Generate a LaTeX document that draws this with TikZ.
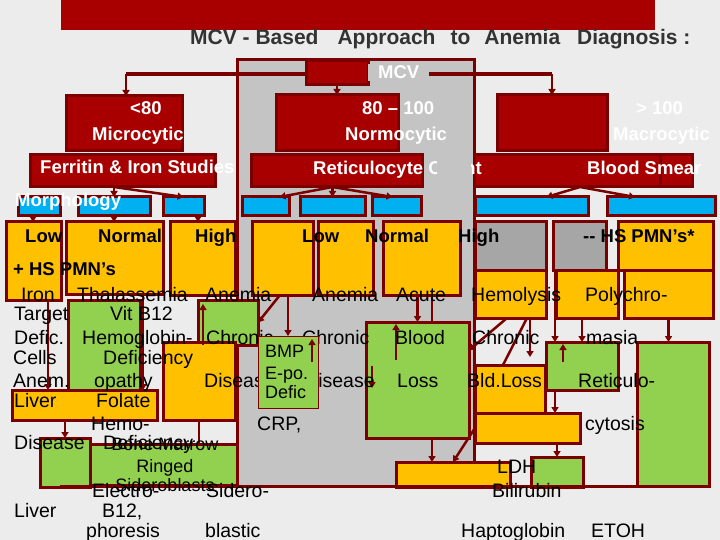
\documentclass[tikz,border=0pt]{standalone}
\usepackage{fontspec}
\setmainfont{Liberation Sans}
\usetikzlibrary{arrows.meta,positioning}
\definecolor{slidebg}{HTML}{ECECEC}
\definecolor{banner}{HTML}{A80000}
\definecolor{edge}{HTML}{7A0000}
\definecolor{panel}{HTML}{C4C4C4}
\definecolor{ambox}{HTML}{FFC000}
\definecolor{grbox}{HTML}{92D050}
\definecolor{blbox}{HTML}{00B0F0}
\definecolor{gybox}{HTML}{A6A6A6}
\definecolor{titletext}{HTML}{333333}
\begin{document}
\begin{tikzpicture}[x=1pt,y=-1pt,
  cell/.style={draw=edge,line width=3pt,anchor=north west,inner sep=0pt,outer sep=0pt},
  sz/.style 2 args={minimum width=#1pt,minimum height=#2pt},
  redbox/.style={cell,fill=banner},
  bluebox/.style={cell,fill=blbox,minimum height=19pt},
  ambbox/.style={cell,fill=ambox},
  grnbox/.style={cell,fill=grbox},
  graybox/.style={cell,fill=gybox},
  arr/.style={draw=edge,line width=2.5pt,-{Triangle[length=6pt,width=7pt]}},
  conn/.style={draw=edge,line width=2.5pt},
  wlabel/.style={text=white,font=\bfseries\fontsize{18.5}{20}\selectfont,anchor=base west,inner sep=0pt},
  blabel/.style={font=\bfseries\fontsize{18.5}{20}\selectfont,anchor=base west,inner sep=0pt},
  body/.style={font=\fontsize{19.5}{20}\selectfont,anchor=base west,inner sep=0pt},
  boxtext/.style={font=\fontsize{18}{20}\selectfont,inner sep=0pt,anchor=base},
]
\useasboundingbox (0,0) rectangle (720,540);
\fill[slidebg] (0,0) rectangle (720,540);
\fill[banner] (61,0) rectangle (655,30);
\node[text=titletext,font=\bfseries\fontsize{21}{22}\selectfont,anchor=base west,inner sep=0pt] (title) at (190,45)
  {MCV - Based\hspace{19pt}Approach\hspace{15pt}to\hspace{14pt}Anemia\hspace{17pt}Diagnosis :};
\draw[edge,line width=3pt,fill=panel] (237,60) rectangle (474,486);

% MCV split
\coordinate (mcvl) at (126,74);
\coordinate (mcvr) at (552,74);
\draw[edge,line width=4pt] (mcvl) -- (mcvr);
\node[redbox,sz={62}{24}] (mcvbox) at (306,61) {};

% size classes
\node[redbox,sz={116}{55}] (micro) at (66,96) {};
\node[redbox,sz={122}{56}] (normo) at (276,95) {};
\node[redbox,sz={110}{56}] (macro) at (497,95) {};
\node[redbox,sz={185}{32}] (ferr) at (30,155) {};
\node[redbox,sz={171}{32}] (retic) at (251,155) {};
\node[redbox,sz={186}{32}] (smear) at (474,155) {};
\node[redbox,sz={32}{32}] (smearend) at (660,155) {};

\foreach \x/\w [count=\i] in {18/42,78/72,163/41,242/47,300/65,372/49,475/113,607/108}
  \node[bluebox,minimum width=\w pt] (b\i) at (\x,197) {};

% result boxes
\node[ambbox,sz={55}{78}] (y1) at (6,222) {};
\node[ambbox,sz={97}{72}] (y2) at (66,222) {};
\node[ambbox,sz={65}{73}] (y3) at (170,222) {};
\node[ambbox,sz={61}{73}] (y4) at (252,222) {};
\node[ambbox,sz={55}{73}] (y5) at (318,222) {};
\node[ambbox,sz={77}{73}] (y6) at (383,222) {};
\node[graybox,sz={71}{48}] (g1) at (475,222) {};
\node[graybox,sz={53}{48}] (g2) at (553,222) {};
\node[ambbox,sz={95}{48}] (y7) at (618,222) {};
\node[ambbox,sz={71}{48}] (y8) at (475,270) {};
\node[ambbox,sz={62}{48}] (y9) at (556,270) {};
\node[ambbox,sz={89}{48}] (y10) at (624,270) {};

\node[grnbox,sz={72}{90}] (gr1) at (68,300) {};
\node[grnbox,sz={60}{45}] (gr2) at (198,300) {};
\node[ambbox,sz={72}{78}] (ye1) at (163,342) {};
\node[ambbox,sz={145}{30}] (liver) at (12,390) {};
\node[grnbox,sz={50}{49}] (gr3) at (40,438) {};
\node[grnbox,sz={147}{41}] (gr4) at (90,444) {};
\node[grnbox,sz={103}{116}] (gr5) at (366,322) {};
\node[ambbox,sz={70}{48}] (ye2) at (475,365) {};
\node[ambbox,sz={105}{30}] (ye3) at (475,413) {};
\node[grnbox,sz={72}{48}] (gr6) at (546,342) {};
\node[grnbox,sz={72}{144}] (gr7) at (637,342) {};
\node[ambbox,sz={114}{25}] (ye4) at (396,462) {};
\node[grnbox,sz={52}{30}] (gr8) at (531,457) {};
\draw[edge,line width=3pt] (60,486) -- (657,486);

% arrows
\foreach \x in {33,48,143,198,203,280,288,312,372,396,432,503,507,527,530,555,563,582}
  \coordinate (c\x) at (\x,0);
\draw[arr] (mcvl) -- (mcvl |- micro.north);
\draw[arr] (mcvr) -- (mcvr |- macro.north);
\draw[arr] (mcvbox.south) -- (normo.north);
\draw[arr] (ferr.south -| b2.north) -- (b2.north);
\draw[arr] (ferr.south -| b2.north) -- (b3.north);
\draw[arr] (retic.south -| b5.north) -- ([xshift=14pt]b4.north);
\draw[arr] (retic.south -| b5.north) -- (b5.north);
\draw[arr] (retic.south -| b5.north) -- ([xshift=-4pt]b6.north);
\draw[arr] ([xshift=13pt]smear.south) -- ([xshift=15pt]b7.north);
\draw[arr] ([xshift=13pt]smear.south) -- ([xshift=-26pt]b8.north);
\draw[arr] (b1.south -| c33) -- (y1.north -| c33);
\draw[arr] (b2.south) -- (b2.south |- y2.north);
\draw[arr] (b3.south -| c198) -- (y3.north -| c198);
\draw[arr] (y1.south -| c48) -- (liver.north -| c48);
\draw[arr] (y2.south -| c143) -- (liver.north -| c143);
\draw[arr] (liver.south -| gr3.north) -- (gr3.north);
\draw[conn] (ye1.south) -- (ye1.south |- gr4.north);
\draw[arr] (gr2.south -| c203) -- ([yshift=-4pt]gr2.north -| c203);
\draw[arr] (y4.south -| c280) -- (gr2.east);
\draw[arr] (y6.south -| gr5.north) -- (gr5.north);
\draw[conn] (y6.south -| c432) -- (gr5.north -| c432);
\draw[arr] ([yshift=-38pt]gr5.north -| c396) -- ([yshift=-2pt]gr5.north -| c396);
\draw[arr] ([yshift=-44pt]gr5.north -| c372) -- ([yshift=-66pt]gr5.north -| c372);
\draw[arr] (y8.south -| c507) -- (gr5.30);
\draw[conn] (y8.south -| c527) -- (ye2.north -| c503);
\draw[arr] (y8.south -| c530) -- ([yshift=8pt]ye2.north -| c530);
\draw[arr] (g2.south -| c555) -- (gr6.north -| c555);
\draw[arr] (y9.south -| c582) -- (gr6.north -| c582);
\draw[arr] ([yshift=-20pt]gr6.north -| c563) -- ([yshift=-2pt]gr6.north -| c563);
\draw[arr] (y10.south) -- (y10.south |- gr7.north);
\draw[arr] (gr6.south -| c555) -- (ye3.north -| c555);
\draw[arr] (ye3.south -| gr8.north) -- (gr8.north);
\draw[arr] (gr5.south -| c432) -- (ye4.north -| c432);
\draw[arr] (ye3.west) -- (ye4.north);

% labels
\node[wlabel] (lt80) at (130,115) {<80};
\node[wlabel] (lmicro) at (92,141) {Microcytic};
\node[wlabel] (lnum) at (362,115) {80 – 100};
\node[wlabel] (lnormo) at (345,141) {Normocytic};
\node[wlabel] (lgt) at (636,115) {> 100};
\node[wlabel] (lmacro) at (613,141) {Macrocytic};
\node[wlabel] (lferr) at (40,174) {Ferritin \& Iron Studies};
\node[wlabel] (lretic) at (313,175) {Reticulocyte Count};
\node[wlabel] (lsmear) at (587,175) {Blood Smear};
\node[wlabel] (lmorph) at (15,207) {Morphology};
\foreach \x/\s [count=\i] in {25/Low,98/Normal,195/High,302/Low,365/Normal,458/High,583/{-{}- HS PMN’s*}}
  \node[blabel] (r\i) at (\x,243) {\s};
\node[blabel] (hs) at (13,275) {+ HS PMN’s};
\foreach \x/\y/\s [count=\i] in {21/301/Iron,77/301/Thalassemia,205/301/Anemia,312/301/Anemia,
    396/301/Acute,471/301/Hemolysis,585/301/Polychro-,
    14/320/Target,110/320/Vit B12,
    14/344/Defic.,82/344/Hemoglobin-,206/344/Chronic,302/344/Chronic,395/344/Blood,472/344/Chronic,586/344/masia,
    13/364/Cells,103/364/Deficiency,
    13/387/Anem.,94/387/opathy,204/387/Disease,304/387/Disease,397/387/Loss,467/387/Bld.Loss,578/387/Reticulo-,
    14/407/Liver,96/407/Folate,
    91/430/Hemo-,257/430/{CRP,},585/430/cytosis,
    14/449/Disease,103/449/Deficiency,
    497/473/LDH,
    92/497/Electro-,206/497/Sidero-,492/497/Bilirubin,
    14/517/Liver,102/517/{B12,},
    86/537/phoresis,205/537/blastic,461/537/Haptoglobin,591/537/ETOH}
  \node[body] (t\i) at (\x,\y) {\s};
\node[boxtext] (bm1) at (165,450) {Bone Marrow};
\node[boxtext] (bm2) at (165,472) {Ringed};
\node[boxtext] (bm3) at (165,491) {Sideroblasts};

% overlays
\node[cell,fill=grbox,line width=1pt,sz={60}{72}] (bmp) at (258,336) {};
\draw[arr] (y4.south -| c288) -- (bmp.north -| c288);
\draw[arr] ([yshift=-26pt]bmp.north -| c312) -- ([yshift=-3pt]bmp.north -| c312);
\node[boxtext,anchor=base west] (bmpa) at (265,357) {BMP};
\node[boxtext,anchor=base west] (bmpb) at (265,379) {E-po.};
\node[boxtext,anchor=base west] (bmpc) at (265,398) {Defic};
\node[fill=panel,inner sep=0pt,anchor=north west,sz={34}{25}] (retgap) at (437,158) {};
\node[wlabel,fill=panel,inner xsep=10pt,inner ysep=2pt] (mcvtxt) at (368,79) {MCV};
\end{tikzpicture}
\end{document}
